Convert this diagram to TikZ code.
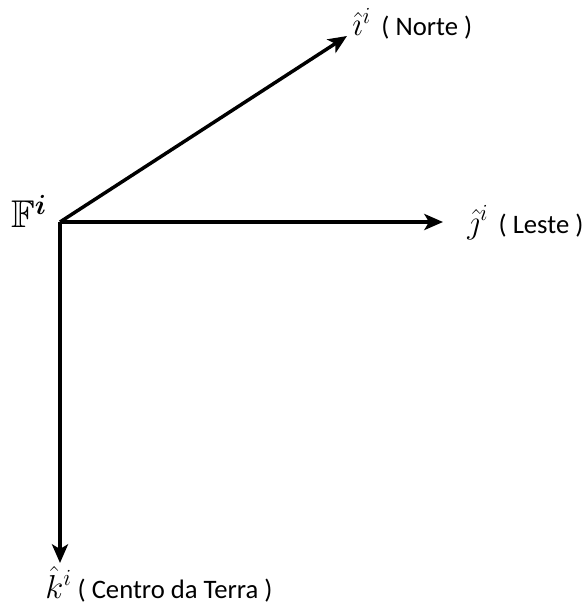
\documentclass[tikz,border=0pt]{standalone}
\usepackage{amsfonts,amssymb,amsmath}
\usepackage{fontspec}
\setmainfont{Carlito}
\usepackage{tikz}
\usetikzlibrary{arrows.meta}
\newcommand{\versor}[1]{{\fontsize{23}{25}\selectfont$#1$}}
\tikzset{vec/.style={-{Stealth[length=14pt,width=12pt,inset=3.5pt]},line width=2.6pt},
lbl/.style={anchor=base west,inner sep=0pt,font=\fontsize{20}{22}\selectfont}}
\begin{document}
\begin{tikzpicture}[x=0.75pt,y=-0.75pt]
\useasboundingbox(0,0)rectangle(586,610);
\coordinate(O)at(60,222);
\coordinate(N)at(347,36);
\coordinate(E)at(443,222);
\coordinate(C)at(60,563);
\draw[vec](O)--(N);
\draw[vec](O)--(E);
\draw[vec](O)--(C);
\node[lbl,font=\fontsize{29}{32}\selectfont](frame)at(11,227){$\mathbb{F}^{\boldsymbol{i}}$};
\node[lbl](norte)at(352,36){\versor{\hat{\imath}^{i}}\ \,( Norte )};
\node[lbl](leste)at(467,233){\versor{\hat{\jmath}^{i}}\ \,( Leste )};
\node[lbl](centro)at(45,598){\versor{\hat{k}^{i}}\ ( Centro da Terra )};
\end{tikzpicture}
\end{document}
